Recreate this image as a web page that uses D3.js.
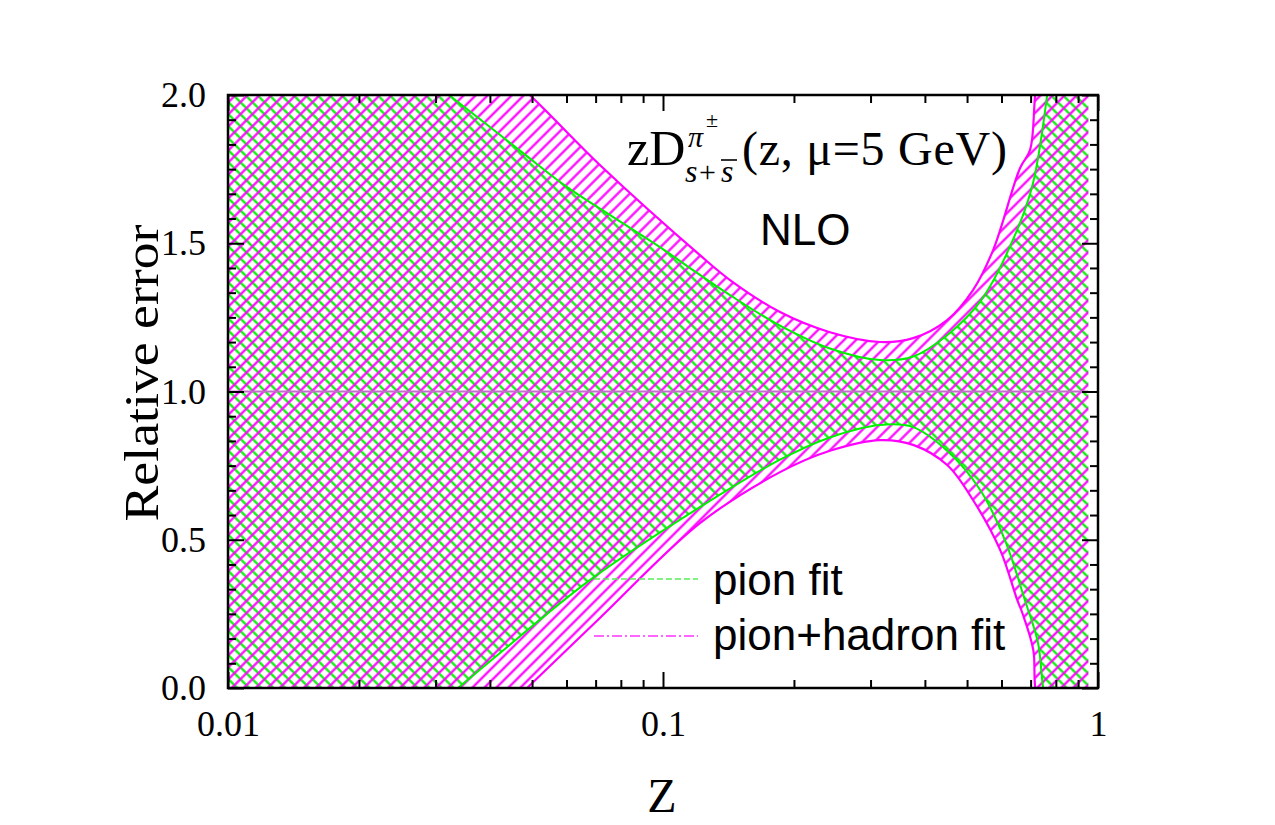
<!DOCTYPE html>
<html>
<head>
<meta charset="utf-8">
<script src="https://cdn.jsdelivr.net/npm/d3@7"></script>
<style>
  body { margin: 0; background: #fff; }
</style>
</head>
<body>
<script>
// pion fit band (green)
const zPionUp = [0.01, 0.02, 0.0322, 0.0374, 0.0477, 0.0601, 0.0767, 0.0984, 0.1197, 0.1426, 0.1858, 0.242, 0.3155, 0.3758, 0.45, 0.54, 0.652, 0.709, 0.764, 0.83, 0.95];
const pionUp  = [2.58, 2.24, 2.0, 1.926, 1.804, 1.69, 1.589, 1.487, 1.40, 1.325, 1.222, 1.145, 1.106, 1.118, 1.19, 1.31, 1.545, 1.703, 2.0, 2.5, 3.6];
const zPionLow = [0.01, 0.02, 0.0338, 0.0422, 0.0679, 0.1216, 0.1858, 0.242, 0.3155, 0.3758, 0.45, 0.536, 0.611, 0.679, 0.728, 0.748, 0.85, 0.95];
const pionLow  = [-0.64, -0.277, 0, 0.118, 0.364, 0.61, 0.77, 0.845, 0.887, 0.88, 0.80, 0.668, 0.499, 0.297, 0.152, 0, -0.5, -1.5];

// pion+hadron fit band (magenta)
const zHadUp = [0.01, 0.02, 0.0494, 0.0716, 0.1216, 0.1426, 0.1858, 0.242, 0.3155, 0.3758, 0.45, 0.516, 0.574, 0.662, 0.698, 0.717, 0.8, 0.95];
const hadUp  = [2.95, 2.53, 2.0, 1.764, 1.46, 1.376, 1.268, 1.20, 1.167, 1.18, 1.241, 1.342, 1.477, 1.754, 1.815, 2.0, 2.8, 4.2];
const zHadLow = [0.01, 0.02, 0.0487, 0.0716, 0.1216, 0.1858, 0.242, 0.3155, 0.3758, 0.45, 0.516, 0.596, 0.652, 0.67, 0.71, 0.717, 0.85, 0.95];
const hadLow  = [-0.96, -0.54, 0, 0.236, 0.556, 0.728, 0.80, 0.836, 0.82, 0.752, 0.634, 0.465, 0.297, 0.253, 0.128, 0, -0.8, -2.0];

const xMajor = [0.01, 0.1, 1];
const yMajor = [0, 0.5, 1.0, 1.5, 2.0];

const W = 1275, H = 825;
const mLeft = 228, mRight = 1098, mTop = 95, mBottom = 688;

const svg = d3.select("body").append("svg")
  .attr("width", W).attr("height", H);

const x = d3.scaleLog().domain([0.01, 1]).range([mLeft, mRight]);
const y = d3.scaleLinear().domain([0, 2]).range([mBottom, mTop]);

const defs = svg.append("defs");
defs.append("clipPath").attr("id", "plotClip")
  .append("rect")
  .attr("x", mLeft).attr("y", mTop)
  .attr("width", mRight - mLeft).attr("height", mBottom - mTop);

function hatch(id, color, angle) {
  const p = defs.append("pattern")
    .attr("id", id)
    .attr("patternUnits", "userSpaceOnUse")
    .attr("width", 8.5).attr("height", 8.5)
    .attr("patternTransform", "rotate(" + angle + ")");
  p.append("line")
    .attr("x1", 4.25).attr("y1", -1).attr("x2", 4.25).attr("y2", 9.5)
    .attr("stroke", color).attr("stroke-width", 2.2);
}
hatch("hatchGreen", "#00f000", -45);
hatch("hatchMagenta", "#ff00ff", 45);

const line = d3.line()
  .x(d => x(d[0]))
  .y(d => y(d[1]))
  .curve(d3.curveCatmullRom);

function pts(zs, vs) { return zs.map((z, i) => [z, vs[i]]); }

function bandPath(up, low) {
  const a = line(up);
  const b = line(low.slice().reverse());
  return a + "L" + b.slice(1) + "Z";
}

const plot = svg.append("g").attr("clip-path", "url(#plotClip)");

const bands = [
  { up: pts(zPionUp, pionUp), low: pts(zPionLow, pionLow), fill: "url(#hatchGreen)", color: "#00f000", w: 2 },
  { up: pts(zHadUp, hadUp), low: pts(zHadLow, hadLow), fill: "url(#hatchMagenta)", color: "#ff00ff", w: 2.2 }
];

bands.forEach(b => {
  plot.append("path")
    .attr("d", bandPath(b.up, b.low))
    .attr("fill", b.fill)
    .attr("stroke", "none");
});
bands.forEach(b => {
  [b.up, b.low].forEach(edge => {
    plot.append("path")
      .attr("d", line(edge))
      .attr("fill", "none")
      .attr("stroke", b.color)
      .attr("stroke-width", b.w);
  });
});

// central value line
plot.append("line")
  .attr("x1", x(zPionUp[0])).attr("x2", x(zPionUp[zPionUp.length - 1]))
  .attr("y1", y(1)).attr("y2", y(1))
  .attr("stroke", "#c070c8").attr("stroke-width", 2);

// * AXES
const xMinor = x.ticks().filter(t => !xMajor.some(m => Math.abs(m - t) < 1e-9));
const yMinor = d3.range(0, 25).map(i => i / 12).filter(t => Math.abs(t * 2 - Math.round(t * 2)) > 1e-6);
const serif = "'Liberation Serif', 'Times New Roman', serif";
const sans = "'Liberation Sans', Arial, sans-serif";

function styleAxis(g) {
  g.selectAll("path.domain").remove();
  g.selectAll("line").attr("stroke", "#000").attr("stroke-width", 2);
  g.selectAll("text").attr("font-family", serif).attr("font-size", 36).attr("fill", "#000");
}

svg.append("g").attr("transform", "translate(0," + mBottom + ")")
  .call(d3.axisBottom(x).tickValues(xMinor).tickSize(-8).tickFormat(""))
  .call(styleAxis);
svg.append("g").attr("transform", "translate(0," + mBottom + ")")
  .call(d3.axisBottom(x).tickValues(xMajor).tickSize(-16).tickPadding(22).tickFormat(d3.format("~g")))
  .call(styleAxis);
svg.append("g").attr("transform", "translate(0," + mTop + ")")
  .call(d3.axisTop(x).tickValues(xMinor).tickSize(-8).tickFormat(""))
  .call(styleAxis);
svg.append("g").attr("transform", "translate(0," + mTop + ")")
  .call(d3.axisTop(x).tickValues(xMajor).tickSize(-16).tickFormat(""))
  .call(styleAxis);

svg.append("g").attr("transform", "translate(" + mLeft + ",0)")
  .call(d3.axisLeft(y).tickValues(yMinor).tickSize(-8).tickFormat(""))
  .call(styleAxis);
svg.append("g").attr("transform", "translate(" + mLeft + ",0)")
  .call(d3.axisLeft(y).tickValues(yMajor).tickSize(-16).tickPadding(22).tickFormat(d3.format(".1f")))
  .call(styleAxis);
svg.append("g").attr("transform", "translate(" + mRight + ",0)")
  .call(d3.axisRight(y).tickValues(yMinor).tickSize(-8).tickFormat(""))
  .call(styleAxis);
svg.append("g").attr("transform", "translate(" + mRight + ",0)")
  .call(d3.axisRight(y).tickValues(yMajor).tickSize(-16).tickFormat(""))
  .call(styleAxis);

// frame
svg.append("rect")
  .attr("x", mLeft).attr("y", mTop)
  .attr("width", mRight - mLeft).attr("height", mBottom - mTop)
  .attr("fill", "none").attr("stroke", "#000").attr("stroke-width", 2.5);

// axis titles
svg.append("text")
  .attr("transform", "translate(158,373) rotate(-90)")
  .attr("text-anchor", "middle")
  .attr("font-family", serif).attr("font-size", 48)
  .attr("textLength", 297).attr("lengthAdjust", "spacingAndGlyphs")
  .text("Relative error");
svg.append("text")
  .attr("x", 662).attr("y", 812)
  .attr("text-anchor", "middle")
  .attr("font-family", serif).attr("font-size", 48)
  .text("Z");

// title
const title = svg.append("g").attr("font-family", serif).attr("fill", "#000");
title.append("text").attr("x", 627).attr("y", 165).attr("font-size", 50).text("zD");
title.append("text").attr("x", 688).attr("y", 147).attr("font-size", 30)
  .attr("font-style", "italic").text("π");
title.append("text").attr("x", 706).attr("y", 127).attr("font-size", 22).text("±");
title.append("text").attr("x", 685).attr("y", 182).attr("font-size", 32)
  .attr("font-style", "italic").text("s");
title.append("text").attr("x", 699).attr("y", 182).attr("font-size", 30).text("+");
title.append("text").attr("x", 721).attr("y", 182).attr("font-size", 32)
  .attr("font-style", "italic").text("s");
title.append("line").attr("x1", 721).attr("x2", 737).attr("y1", 160).attr("y2", 160)
  .attr("stroke", "#000").attr("stroke-width", 1.6);
title.append("text").attr("x", 742).attr("y", 165).attr("font-size", 48)
  .attr("textLength", 265).attr("lengthAdjust", "spacing").text("(z, μ=5 GeV)");

svg.append("text").attr("x", 760).attr("y", 245)
  .attr("font-family", sans).attr("font-size", 44).text("NLO");

// * LEGEND
const legend = [
  { label: "pion fit", color: "#55ee55", dash: "6,3", w: 1.3, y: 579, ty: 595 },
  { label: "pion+hadron fit", color: "#ff33ff", dash: "10,3,2,3", w: 1.6, y: 636, ty: 650 }
];
legend.forEach(l => {
  svg.append("line")
    .attr("x1", 594).attr("x2", 698).attr("y1", l.y).attr("y2", l.y)
    .attr("stroke", l.color).attr("stroke-width", l.w)
    .attr("stroke-dasharray", l.dash);
  svg.append("text")
    .attr("x", 713).attr("y", l.ty)
    .attr("font-family", sans).attr("font-size", 44)
    .text(l.label);
});
</script>
</body>
</html>
